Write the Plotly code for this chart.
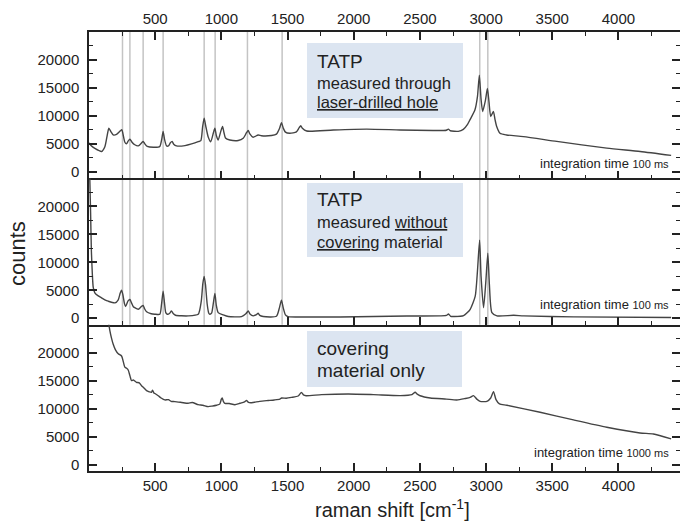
import plotly.graph_objects as go

# ---------------- data ----------------
# Panel 1: TATP measured through laser-drilled hole (100 ms)
wn_hole = [0, 15, 44, 95, 120, 135, 150, 165, 183, 208, 235, 248, 260, 271, 283, 298, 309, 325, 346, 372,
           398, 409, 422, 440, 498, 535, 550, 560, 570, 586, 600, 615, 628, 640, 661, 725, 775, 825, 845, 858,
           870, 882, 900, 920, 940, 951, 962, 976, 995, 1009, 1020, 1031, 1064, 1127, 1165, 1190, 1203, 1215,
           1240, 1278, 1303, 1379, 1416, 1440, 1454, 1468, 1484, 1517, 1567, 1588, 1600, 1612, 1645, 1846,
           2098, 2350, 2601, 2700, 2715, 2730, 2790, 2828, 2860, 2878, 2916, 2935, 2949, 2962, 2974, 2995,
           3010, 3022, 3035, 3055, 3068, 3080, 3105, 3155, 3282, 3534, 3912, 4164, 4398]
counts_hole = [5200, 4700, 4200, 3650, 4500, 6200, 7800, 7200, 6600, 6700, 7300, 7550, 6400, 5300, 5000, 5600,
               5850, 5300, 4850, 4650, 5200, 5450, 5000, 4550, 4400, 4550, 5900, 7250, 5900, 4650, 4650, 5200,
               5450, 4950, 4650, 4700, 5000, 5400, 5600, 8000, 9600, 8200, 6300, 5400, 7000, 7800, 6500, 5700,
               7200, 8100, 7000, 6050, 5700, 5600, 6000, 7000, 7400, 6800, 6200, 6600, 6450, 6500, 6750, 7800,
               8800, 7800, 7100, 6900, 7150, 7900, 8250, 7800, 7300, 7500, 7650, 7500, 7400, 7450, 7650, 7350,
               7250, 7600, 8500, 9300, 11100, 13500, 17300, 13000, 10800, 12800, 14900, 12500, 9900, 10800,
               9300, 8100, 6900, 6600, 6300, 5450, 4250, 3650, 2950]

# Panel 2: TATP measured without covering material (100 ms)
wn_pure = [5, 12, 18, 25, 32, 44, 70, 95, 120, 145, 196, 221, 236, 246, 256, 268, 276, 295, 309, 322, 335,
           346, 372, 398, 409, 420, 435, 470, 498, 535, 548, 560, 570, 580, 591, 610, 623, 636, 654, 749, 825,
           848, 860, 870, 880, 893, 905, 913, 926, 940, 951, 962, 976, 1014, 1052, 1152, 1185, 1203, 1218,
           1240, 1265, 1278, 1290, 1316, 1416, 1438, 1454, 1468, 1484, 1504, 1656, 1897, 2401, 2653, 2700,
           2716, 2732, 2754, 2830, 2880, 2918, 2935, 2951, 2962, 2981, 2998, 3013, 3025, 3044, 3082, 3208,
           3284, 3661, 4398]
counts_pure = [26000, 19000, 12000, 8000, 5500, 4550, 4000, 3650, 3300, 3050, 2750, 3300, 4500, 5000, 4200,
               2600, 2100, 3100, 3350, 2700, 2050, 1880, 1600, 2150, 2300, 1700, 1150, 800, 720, 700, 2500,
               4830, 2800, 1000, 720, 900, 1300, 850, 530, 420, 700, 3000, 6200, 7480, 6000, 2500, 900, 700,
               900, 2800, 4420, 2300, 1000, 600, 300, 300, 800, 1300, 700, 420, 650, 880, 500, 300, 350, 1800,
               3240, 1800, 600, 300, 230, 230, 400, 420, 500, 750, 350, 300, 450, 1600, 3950, 8500, 13960,
               7500, 1880, 6500, 11600, 6000, 1000, 420, 530, 420, 250, 120]

# Panel 3: covering material only (1000 ms)
wn_cover = [145, 158, 170, 183, 200, 221, 246, 260, 271, 284, 296, 310, 321, 335, 359, 380, 397, 415, 435, 455,
            472, 480, 490, 498, 523, 545, 573, 600, 620, 649, 700, 749, 780, 825, 860, 900, 930, 963, 988, 1000,
            1006, 1015, 1026, 1060, 1102, 1140, 1175, 1190, 1205, 1228, 1290, 1354, 1400, 1442, 1455, 1490,
            1530, 1580, 1605, 1620, 1640, 1757, 1958, 2149, 2351, 2440, 2464, 2480, 2502, 2578, 2700, 2779,
            2842, 2880, 2905, 2930, 2955, 3006, 3035, 3056, 3075, 3101, 3157, 3408, 3660, 3912, 4163, 4264, 4398]
counts_cover = [25800, 23900, 22600, 21500, 20500, 19800, 19400, 18300, 17400, 17200, 16900, 15800, 15000,
                15100, 14700, 14600, 14100, 13700, 13200, 13000, 12900, 13300, 12800, 12700, 12300, 11900,
                11550, 11600, 11300, 11250, 11100, 10950, 11100, 10700, 10600, 10350, 10450, 10600, 10800,
                11700, 11900, 11300, 10950, 10900, 10700, 10950, 11200, 11450, 11100, 11050, 11300, 11450,
                11550, 11700, 11900, 11850, 12000, 12250, 12900, 12450, 12300, 12500, 12620, 12500, 12320,
                12500, 12920, 12600, 12300, 11900, 11700, 11550, 11800, 12000, 12320, 11700, 11300, 11300,
                11900, 13040, 11600, 10830, 10600, 9350, 7980, 6670, 5650, 5470, 4580]

# TATP reference band positions (vertical guide lines)
tatp_bands = [253, 309, 409, 560, 870, 953, 1197, 1459, 2952, 3013]

x_ticks = [500, 1000, 1500, 2000, 2500, 3000, 3500, 4000]
y_ticks = [0, 5000, 10000, 15000, 20000]

panel_boxes = [
    ["TATP", "measured through", "<u>laser-drilled hole</u>"],
    ["TATP", "measured <u>without</u>", "<u>covering</u> material"],
    ["covering", "material only"],
]
integration_labels = ["100 ms", "100 ms", "1000 ms"]

# ---------------- figure ----------------
W, H = 680, 528
ML, MR, MT, MB = 89, 0, 32, 57
PW, PH = W - ML - MR, H - MT - MB
FONT = "Liberation Sans, Arial, sans-serif"
TXT = "#222222"
LINE = "#444444"


def px(xp):
    return (xp - ML) / PW


def py(yp):
    return (H - MB - yp) / PH


fig = go.Figure()
series = [(wn_hole, counts_hole), (wn_pure, counts_pure), (wn_cover, counts_cover)]
for i, (xs, ys) in enumerate(series):
    sfx = "" if i == 0 else str(i + 1)
    fig.add_trace(go.Scatter(x=xs, y=ys, mode="lines", xaxis="x" + sfx, yaxis="y" + sfx,
                             line=dict(color=LINE, width=1.4, shape="spline", smoothing=0.6),
                             showlegend=False, hoverinfo="skip"))

xrange = [0, 4465]
yrange = [-1150, 25000]
domains = [[2 / 3, 1], [1 / 3, 2 / 3], [0, 1 / 3]]

common_x = dict(range=xrange, tickvals=x_ticks, ticks="inside", ticklen=8, tickwidth=1.5,
                tickcolor="#222", showline=True, linecolor="#222", linewidth=1.5, showgrid=False,
                zeroline=False, minor=dict(ticks="inside", ticklen=4, tickwidth=1.2, dtick=250, tick0=0,
                                           tickcolor="#222", showgrid=False),
                tickfont=dict(family=FONT, size=15, color=TXT))
common_y = dict(range=yrange, tickvals=y_ticks, tickformat="d", ticks="inside", ticklen=8, tickwidth=1.5,
                tickcolor="#222", showline=True, linecolor="#222", linewidth=1.5, showgrid=False,
                zeroline=False, mirror="ticks", ticklabelstandoff=5,
                minor=dict(ticks="inside", ticklen=4, tickwidth=1.2, dtick=2500, tick0=0, tickcolor="#222",
                           showgrid=False),
                tickfont=dict(family=FONT, size=15, color=TXT))

fig.update_layout(
    xaxis=dict(common_x, anchor="y", side="top", mirror="ticks", showticklabels=True),
    xaxis2=dict(common_x, anchor="y2", side="bottom", mirror=False, showticklabels=False),
    xaxis3=dict(common_x, anchor="y3", side="bottom", mirror=False, showticklabels=True),
    yaxis=dict(common_y, domain=domains[0], anchor="x"),
    yaxis2=dict(common_y, domain=domains[1], anchor="x2"),
    yaxis3=dict(common_y, domain=domains[2], anchor="x3"),
)

shapes = []
for b in tatp_bands:
    shapes.append(dict(type="line", xref="x", yref="paper", x0=b, x1=b, y0=1 / 3, y1=1,
                       line=dict(color="#c4c4c4", width=1.5), layer="below"))

box_px = [(307, 463, 43, 118), (307, 463, 183, 257), (307, 462, 331, 387)]
for (x0, x1, y0, y1) in box_px:
    shapes.append(dict(type="rect", xref="paper", yref="paper", x0=px(x0), x1=px(x1), y0=py(y1), y1=py(y0),
                       fillcolor="#dce5f1", line=dict(width=0), layer="below"))

annotations = []
line_y = [[61, 83, 102], [200, 222, 242], [348, 370]]
sizes = [[19, 16.5, 16.5], [19, 16.5, 16.5], [19, 19]]
for lines, ys, ss in zip(panel_boxes, line_y, sizes):
    for t, yy, s in zip(lines, ys, ss):
        annotations.append(dict(text=t, xref="paper", yref="paper", x=px(315), y=py(yy), xanchor="left",
                                yanchor="middle", showarrow=False, font=dict(family=FONT, size=s, color=TXT)))

for lab, yy in zip(integration_labels, [163, 305, 452]):
    annotations.append(dict(text="integration time <span style='font-size:11px'>" + lab + "</span>",
                            xref="paper", yref="paper", x=px(671), y=py(yy), xanchor="right",
                            yanchor="middle", showarrow=False, font=dict(family=FONT, size=13, color=TXT)))

annotations.append(dict(text="raman shift [cm<sup>-1</sup>]", xref="paper", yref="paper", x=px(393),
                        y=py(509), xanchor="center", yanchor="middle", showarrow=False,
                        font=dict(family=FONT, size=20, color=TXT)))
annotations.append(dict(text="counts", xref="paper", yref="paper", x=px(18), y=py(254), textangle=-90,
                        xanchor="center", yanchor="middle", showarrow=False,
                        font=dict(family=FONT, size=22, color=TXT)))

fig.update_layout(width=W, height=H, margin=dict(l=ML, r=MR, t=MT, b=MB, autoexpand=False),
                  paper_bgcolor="white", plot_bgcolor="white", shapes=shapes, annotations=annotations,
                  showlegend=False)

fig.write_html("out.html", config={"displayModeBar": False},
               post_script="document.body.style.margin='0';document.body.style.overflow='hidden';")
